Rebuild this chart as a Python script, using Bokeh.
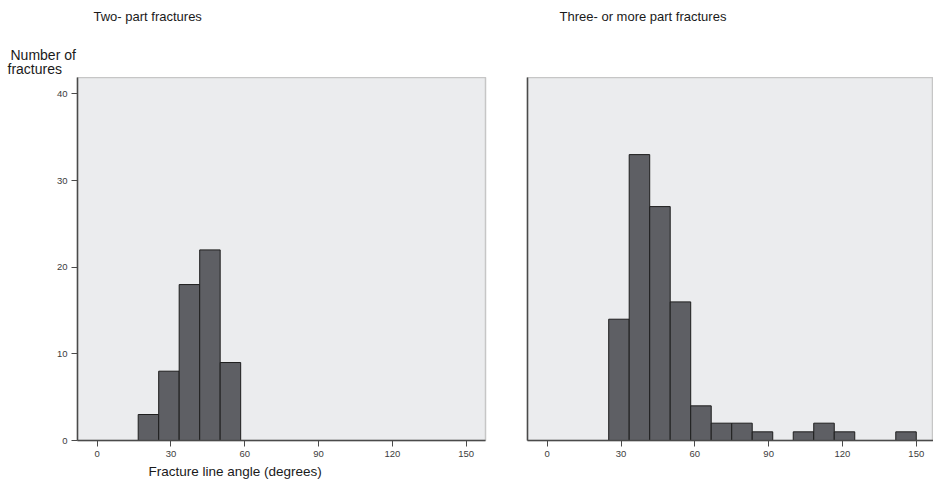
from bokeh.plotting import figure
from bokeh.models import Range1d, FixedTicker, Title
from bokeh.layouts import row, column
from bokeh.core.properties import value
from bokeh.embed import file_html
from bokeh.resources import INLINE

# ---- data ----
two_bin_left = [16.67, 25.0, 33.33, 41.67, 50.0]
two_bin_right = [25.0, 33.33, 41.67, 50.0, 58.33]
two_counts = [3, 8, 18, 22, 9]

three_bin_left = [25.0, 33.33, 41.67, 50.0, 58.33, 66.67, 75.0, 83.33,
                  91.67, 100.0, 108.33, 116.67, 125.0, 133.33, 141.67]
three_bin_right = [33.33, 41.67, 50.0, 58.33, 66.67, 75.0, 83.33, 91.67,
                   100.0, 108.33, 116.67, 125.0, 133.33, 141.67, 150.0]
three_counts = [14, 33, 27, 16, 4, 2, 2, 1, 0, 1, 2, 1, 0, 0, 1]

x_ticks = [0, 30, 60, 90, 120, 150]
y_ticks = [0, 10, 20, 30, 40]

title_two = "Two- part fractures"
title_three = "Three- or more part fractures"
y_title_1 = "Number of"
y_title_2 = "fractures"
x_title = "Fracture line angle (degrees)"

FONT = "Liberation Sans"
W = 933
HDR_H = 77
MAIN_H = 408
Y_END = 41.9

# ---- header strip (panel titles and y-axis caption) ----
hdr = figure(width=W, height=HDR_H, x_range=Range1d(0, W), y_range=Range1d(HDR_H, 0),
             output_backend="svg", toolbar_location=None,
             min_border_left=0, min_border_right=0, min_border_top=0, min_border_bottom=0)
hdr.axis.visible = False
hdr.grid.visible = False
hdr.outline_line_color = None
hdr.background_fill_color = "white"
hdr.border_fill_color = "white"
hdr.text(x=[93, 559], y=[15.5, 15.5], text=[title_two, title_three],
         text_font=value(FONT), text_font_size="13px", text_color="#1a1a1a",
         text_baseline="middle", text_align="left")
hdr.text(x=[10, 7], y=[54, 68], text=[y_title_1, y_title_2],
         text_font=value(FONT), text_font_size="14px", text_color="#1a1a1a",
         text_baseline="middle", text_align="left")


def make_fig(width, x_end, min_left, min_right):
    p = figure(width=width, height=MAIN_H,
               x_range=Range1d(-8.0, x_end), y_range=Range1d(0, Y_END),
               output_backend="svg", toolbar_location=None,
               min_border_left=min_left, min_border_right=min_right,
               min_border_top=0, min_border_bottom=45)
    p.background_fill_color = "#ebecee"
    p.border_fill_color = "white"
    p.outline_line_color = "#c6c6c6"
    p.outline_line_width = 1.5
    p.grid.visible = False
    for ax in (p.xaxis, p.yaxis):
        ax.axis_line_color = "#4a4a4a"
        ax.axis_line_width = 1.5
        ax.major_tick_line_color = "#4a4a4a"
        ax.major_tick_out = 6
        ax.major_tick_in = 0
        ax.minor_tick_line_color = None
        ax.major_label_text_font = FONT
        ax.major_label_text_font_size = "9.5px"
        ax.major_label_text_color = "#3c3c3c"
        ax.major_label_standoff = 4
    p.xaxis.ticker = FixedTicker(ticks=x_ticks)
    return p


def bars(p, left, right, counts):
    l = [a for a, c in zip(left, counts) if c > 0]
    r = [b for b, c in zip(right, counts) if c > 0]
    t = [c for c in counts if c > 0]
    p.quad(left=l, right=r, bottom=0, top=t,
           fill_color="#5e5f64", line_color="#1e1e1e", line_width=1)


# left panel
p1 = make_fig(507, 157.85, 77, 22)
p1.yaxis.ticker = FixedTicker(ticks=y_ticks)
bars(p1, two_bin_left, two_bin_right, two_counts)
p1.add_layout(Title(text=x_title, align="left", offset=71, standoff=8,
                    vertical_align="top", text_font=FONT, text_font_size="13.5px",
                    text_font_style="normal", text_color="#1a1a1a"), "below")

# right panel
p2 = make_fig(W - 507, 157.0, 20, 0)
p2.yaxis.ticker = FixedTicker(ticks=[])
p2.yaxis.major_tick_line_color = None
bars(p2, three_bin_left, three_bin_right, three_counts)

layout = column(hdr, row(p1, p2))
open("out.html", "w").write(file_html(layout, INLINE))
